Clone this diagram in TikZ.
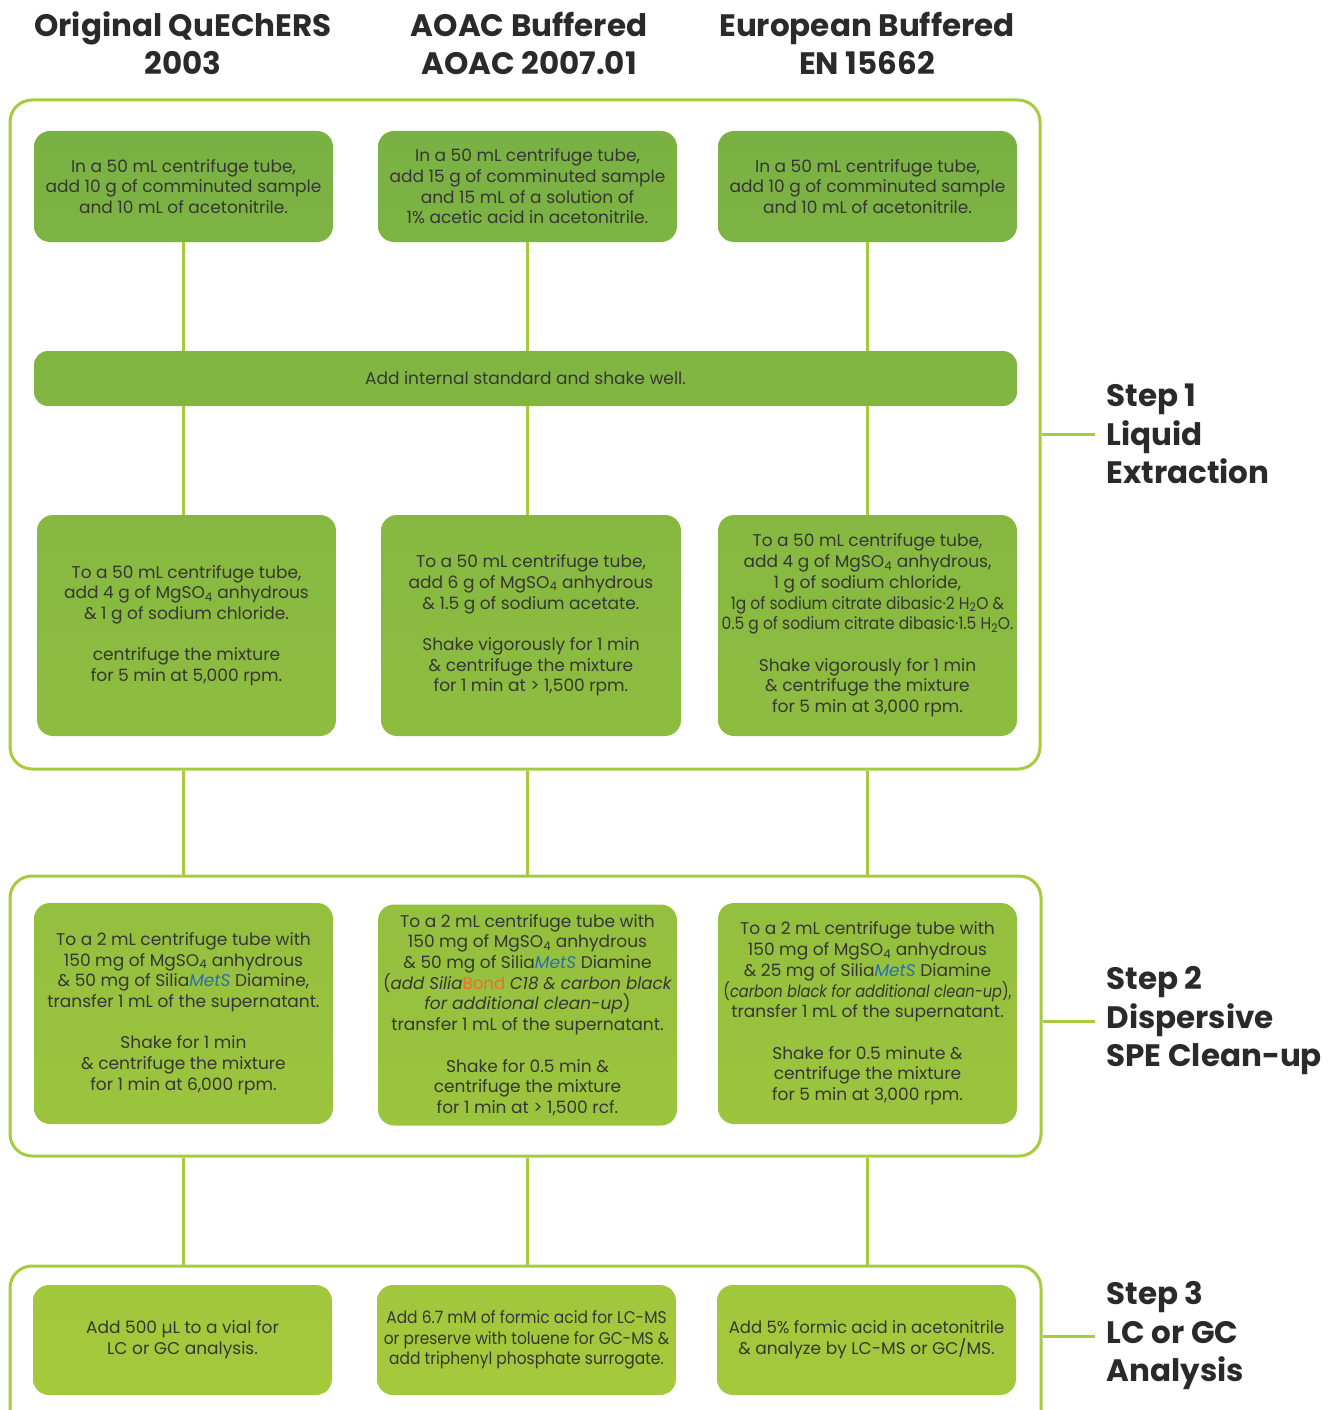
\documentclass[tikz,border=0pt]{standalone}
\usepackage{fontspec}
\usepackage{graphicx}
\setmainfont{Poppins}
\usetikzlibrary{calc}
\definecolor{gA}{HTML}{79B143}
\definecolor{gB}{HTML}{A5C93C}
\definecolor{edge}{HTML}{A6CB3D}
\definecolor{txt}{HTML}{363636}
\definecolor{headc}{HTML}{2A2A2A}
\definecolor{mets}{HTML}{2B6DB3}
\definecolor{bond}{HTML}{F26B32}
\newcommand{\sbs}[1]{\textsubscript{#1}}
\newcommand{\MetS}{\textcolor{mets}{\textit{MetS}}}
\newcommand{\cond}[2][0.91]{\scalebox{#1}[1]{#2}}
\tikzset{
  frame/.style={draw=edge, line width=3pt, rounded corners=22pt, inner sep=0pt},
  box/.style={rounded corners=16pt, inner sep=0pt, align=center, text=txt,
    font=\fontsize{17}{20.7}\selectfont},
  link/.style={draw=edge, line width=3pt},
  head/.style={font=\fontsize{31}{38}\selectfont\bfseries, align=center, text=headc},
  steplbl/.style={font=\fontsize{31}{38.5}\selectfont\bfseries, align=left, text=headc, anchor=west},
}
\begin{document}
\begin{tikzpicture}[x=1pt,y=-1pt]
\useasboundingbox (0,0) rectangle (1331,1410);
% headers
\node[head] (h1) at (183,43) {Original QuEChERS\\2003};
\node[head] (h2) at (529,43) {AOAC Buffered\\AOAC 2007.01};
\node[head] (h3) at (867,43) {European Buffered\\EN 15662};
% outer frames
\node[frame, minimum width=1030pt, minimum height=669pt] (s1) at (525,434.5) {};
\node[frame, minimum width=1031pt, minimum height=280pt] (s2) at (525.5,1016) {};
\node[frame, minimum width=1031pt, minimum height=180pt] (s3) at (525.5,1356) {};
% row 1
\node[box, top color=gB!0!gA, bottom color=gB!9!gA, minimum width=299pt, minimum height=111pt] (a1) at (183.5,186.5)
  {In a 50 mL centrifuge tube,\\add 10 g of comminuted sample\\and 10 mL of acetonitrile.};
\node[box, top color=gB!0!gA, bottom color=gB!9!gA, minimum width=299pt, minimum height=111pt] (a2) at (527.5,186.5)
  {In a 50 mL centrifuge tube,\\add 15 g of comminuted sample\\and 15 mL of a solution of\\1\% acetic acid in acetonitrile.};
\node[box, top color=gB!0!gA, bottom color=gB!9!gA, minimum width=299pt, minimum height=111pt] (a3) at (867.5,186.5)
  {In a 50 mL centrifuge tube,\\add 10 g of comminuted sample\\and 10 mL of acetonitrile.};
% band
\node[box, rounded corners=14pt, top color=gB!17!gA, bottom color=gB!22!gA, minimum width=983pt, minimum height=55pt] (band) at (525.5,378.5)
  {Add internal standard and shake well.};
% row 3
\node[box, top color=gB!30!gA, bottom color=gB!48!gA, minimum width=299pt, minimum height=221pt] (b1) at (186.5,625.5)
  {To a 50 mL centrifuge tube,\\add 4 g of MgSO\sbs{4} anhydrous\\\& 1 g of sodium chloride.\\[20.7pt]centrifuge the mixture\\for 5 min at 5,000 rpm.};
\node[box, top color=gB!30!gA, bottom color=gB!48!gA, minimum width=300pt, minimum height=221pt] (b2) at (531,625.5)
  {To a 50 mL centrifuge tube,\\add 6 g of MgSO\sbs{4} anhydrous\\\& 1.5 g of sodium acetate.\\[20.7pt]Shake vigorously for 1 min\\\& centrifuge the mixture\\for 1 min at > 1,500 rpm.};
\node[box, top color=gB!30!gA, bottom color=gB!48!gA, minimum width=299pt, minimum height=221pt] (b3) at (867.5,625.5)
  {To a 50 mL centrifuge tube,\\add 4 g of MgSO\sbs{4} anhydrous,\\1 g of sodium chloride,\\\cond{1g of sodium citrate dibasic·2 H\sbs{2}O \&}\\\cond{0.5 g of sodium citrate dibasic·1.5 H\sbs{2}O.}\\[20.7pt]Shake vigorously for 1 min\\\& centrifuge the mixture\\for 5 min at 3,000 rpm.};
% step 2 boxes
\node[box, top color=gB!61!gA, bottom color=gB!79!gA, minimum width=299pt, minimum height=221pt] (c1) at (183.5,1013.5)
  {To a 2 mL centrifuge tube with\\150 mg of MgSO\sbs{4} anhydrous\\\& 50 mg of Silia\MetS{} Diamine,\\transfer 1 mL of the supernatant.\\[20.7pt]Shake for 1 min\\\& centrifuge the mixture\\for 1 min at 6,000 rpm.};
\node[box, top color=gB!61!gA, bottom color=gB!79!gA, minimum width=299pt, minimum height=221pt] (c2) at (527.5,1015)
  {To a 2 mL centrifuge tube with\\150 mg of MgSO\sbs{4} anhydrous\\\& 50 mg of Silia\MetS{} Diamine\\\cond[0.98]{(\textit{add Silia}\textcolor{bond}{Bond} \textit{C18 \& carbon black}}\\\textit{for additional clean-up})\\transfer 1 mL of the supernatant.\\[20.7pt]Shake for 0.5 min \&\\centrifuge the mixture\\for 1 min at > 1,500 rcf.};
\node[box, top color=gB!61!gA, bottom color=gB!79!gA, minimum width=299pt, minimum height=221pt] (c3) at (867.5,1013.5)
  {To a 2 mL centrifuge tube with\\150 mg of MgSO\sbs{4} anhydrous\\\& 25 mg of Silia\MetS{} Diamine\\\cond[0.86]{(\textit{carbon black for additional clean-up}),}\\transfer 1 mL of the supernatant.\\[20.7pt]Shake for 0.5 minute \&\\centrifuge the mixture\\for 5 min at 3,000 rpm.};
% step 3 boxes
\node[box, top color=gB!91!gA, bottom color=gB!100!gA, minimum width=299pt, minimum height=110pt] (d1) at (182.5,1340)
  {Add 500 µL to a vial for\\LC or GC analysis.};
\node[box, top color=gB!91!gA, bottom color=gB!100!gA, minimum width=299pt, minimum height=110pt] (d2) at (526.5,1340)
  {\cond{Add 6.7 mM of formic acid for LC-MS}\\\cond{or preserve with toluene for GC-MS \&}\\\cond{add triphenyl phosphate surrogate.}};
\node[box, top color=gB!91!gA, bottom color=gB!100!gA, minimum width=299pt, minimum height=110pt] (d3) at (866.5,1340)
  {\cond[0.97]{Add 5\% formic acid in acetonitrile}\\\& analyze by LC-MS or GC/MS.};
% connectors
\foreach \c in {a1,a2,a3}{
  \draw[link] (\c.south) -- (\c.south |- band.north);
  \draw[link] (\c.south |- band.south) -- ++(0,108.5);
  \draw[link] (\c.south |- s1.south) -- (\c.south |- s2.north);
  \draw[link] (\c.south |- s2.south) -- (\c.south |- s3.north);
}
% step labels
\node[steplbl] (l1) at (1103,434) {Step 1\\Liquid\\Extraction};
\node[steplbl] (l2) at (1103,1021) {Step 2\\Dispersive\\SPE Clean-up};
\node[steplbl] (l3) at (1103,1336) {Step 3\\LC or GC\\Analysis};
\draw[link] (s1.east |- l1.west) -- ([xshift=-8pt]l1.west);
\draw[link] (s2.east |- l2.west) -- ([xshift=-8pt]l2.west);
\draw[link] (s3.east |- l3.west) -- ([xshift=-8pt]l3.west);
\end{tikzpicture}
\end{document}
